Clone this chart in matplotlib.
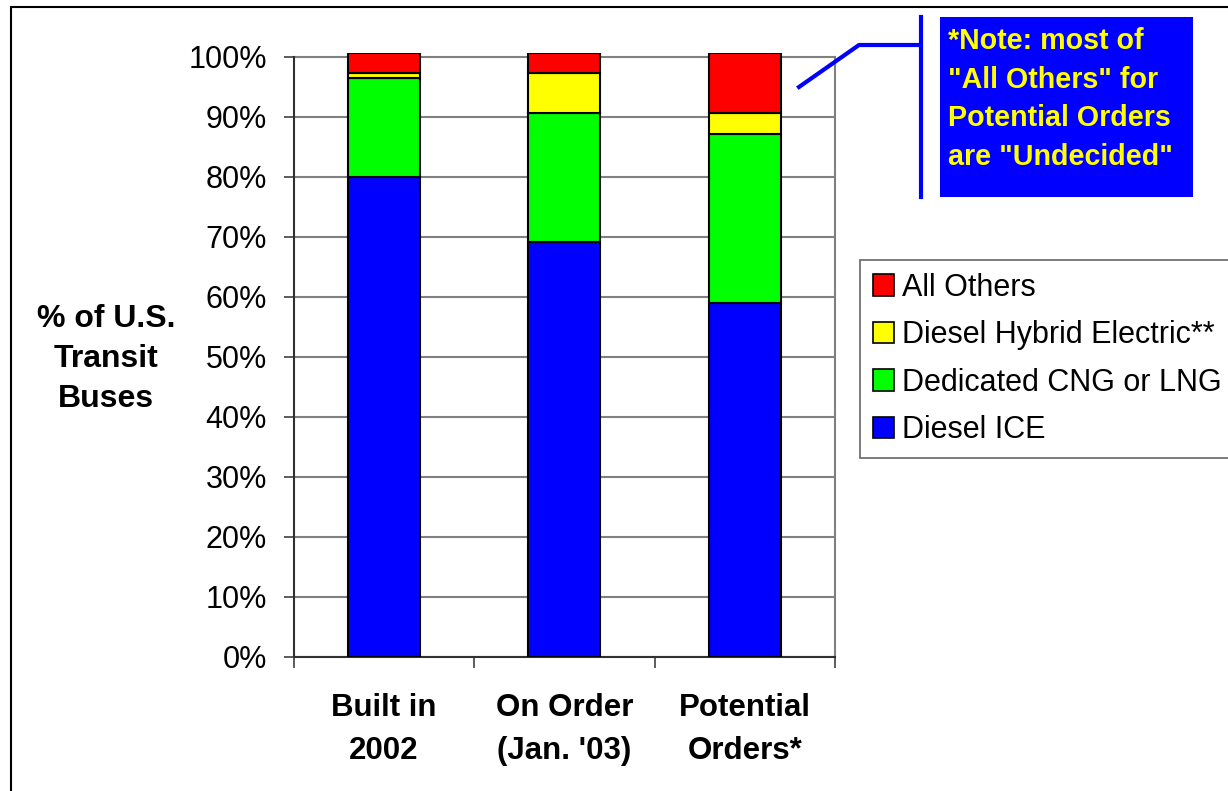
import matplotlib
matplotlib.use('Agg')
import matplotlib.pyplot as plt
from matplotlib.patches import Patch, Rectangle
from matplotlib.lines import Line2D
import numpy as np

plt.rcParams['font.family'] = ['Liberation Sans', 'DejaVu Sans']

categories = ['Built in\n2002', "On Order\n(Jan. '03)", 'Potential\nOrders*']
diesel_ice = [80.0, 69.2, 59.0]
cng_lng = [16.5, 21.4, 28.2]
hybrid = [0.9, 6.8, 3.5]
all_others = [3.3, 3.3, 10.0]
series_names = ['Diesel ICE', 'Dedicated CNG or LNG', 'Diesel Hybrid Electric**', 'All Others']
series_colors = ['#0000FF', '#00FF00', '#FFFF00', '#FF0000']
ytick_vals = list(range(0, 101, 10))

W, H = 1228, 791
fig = plt.figure(figsize=(W / 100, H / 100), dpi=100)

# plot area in pixels: x 293.5..835, 0% at y=657, 100% at y=57
ymax = 100.7
px_per = (657 - 57) / 100.0
top_px = 657 - ymax * px_per
ax = fig.add_axes([293.5 / W, 1 - 657 / H, (835 - 293.5) / W, (657 - top_px) / H])

x = np.arange(len(categories)) + 0.5
bottom = np.zeros(len(categories))
for vals, col in zip([diesel_ice, cng_lng, hybrid, all_others], series_colors):
    ax.bar(x, vals, width=0.4, bottom=bottom, color=col, edgecolor='black', linewidth=1.5, zorder=3)
    bottom += np.array(vals)

ax.set_xlim(0, 3)
ax.set_ylim(0, ymax)

ax.set_yticks(ytick_vals)
ax.set_yticklabels([f'{v}%' for v in ytick_vals], fontsize=22)
ax.yaxis.grid(True, color='#808080', linewidth=1.5, zorder=0)
ax.set_axisbelow(True)

ax.set_xticks([0, 1, 2, 3])
ax.set_xticklabels([])
ax.set_xticks(x, minor=True)
ax.set_xticklabels(categories, minor=True, fontsize=22.5, fontweight='bold', linespacing=1.55)
ax.tick_params(axis='x', which='minor', length=0, pad=26)
ax.tick_params(axis='x', which='major', length=8, width=1.2, color='#404040', direction='out')
ax.tick_params(axis='y', length=7, width=1.2, color='#404040', direction='out', pad=12)

ax.spines['top'].set_visible(False)
ax.spines['left'].set_bounds(0, 100)
ax.spines['left'].set_color('#303030')
ax.spines['left'].set_linewidth(1.5)
ax.spines['bottom'].set_color('#303030')
ax.spines['bottom'].set_linewidth(1.5)
ax.spines['right'].set_bounds(0, 100)
ax.spines['right'].set_color('#808080')
ax.spines['right'].set_linewidth(1.5)

# y label
fig.text(106 / W, 1 - 359 / H, '% of U.S.\nTransit\nBuses', ha='center', va='center',
         fontsize=23, fontweight='bold', linespacing=1.44)

# legend
handles = [Patch(facecolor=c, edgecolor='black', linewidth=1.2, label=n)
           for n, c in zip(series_names[::-1], series_colors[::-1])]
leg = fig.legend(handles=handles, loc='upper left', bbox_to_anchor=(860 / W, 1 - 260 / H),
                 fontsize=22, frameon=True, fancybox=False, edgecolor='#404040',
                 handlelength=0.7, handleheight=0.7, handletextpad=0.25,
                 borderpad=0.42, labelspacing=0.57, borderaxespad=0)
leg.get_frame().set_linewidth(1.2)

# note box
fig.add_artist(Rectangle((940 / W, 1 - 197 / H), 253 / W, 180 / H, transform=fig.transFigure,
                         facecolor='#0000FF', edgecolor='none'))
fig.text(948 / W, 1 - 27 / H, '*Note: most of\n"All Others" for\nPotential Orders\nare "Undecided"',
         ha='left', va='top', color='#FFFF00', fontsize=20.6, fontweight='bold', linespacing=1.48)
fig.add_artist(Line2D([920.7 / W, 920.7 / W], [1 - 17 / H, 1 - 197 / H], transform=fig.transFigure,
                      color='#0000FF', linewidth=3))
fig.add_artist(Line2D([799 / W, 859 / W, 920 / W], [1 - 87 / H, 1 - 45 / H, 1 - 45 / H],
                      transform=fig.transFigure, color='#0000FF', linewidth=3))

# outer frame
fig.add_artist(Rectangle((10.5 / W, -0.5), 5, 1.5 - 7 / H, transform=fig.transFigure,
                         fill=False, edgecolor='black', linewidth=1.5))

fig.savefig('out.png', dpi=100)
